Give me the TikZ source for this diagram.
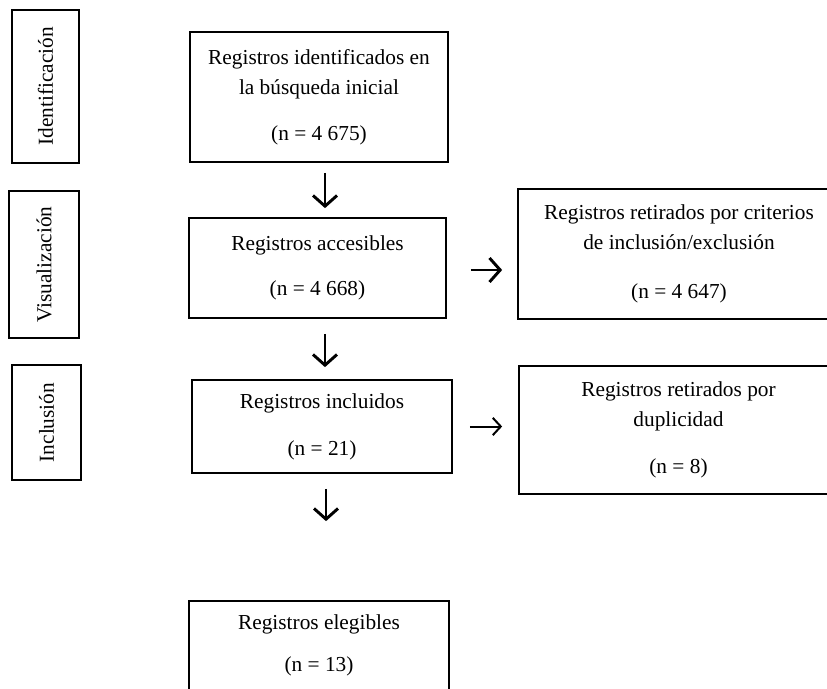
\documentclass[tikz,border=0pt]{standalone}
\usepackage{fontspec}
\usepackage{graphicx}
\setmainfont{Liberation Serif}
\usetikzlibrary{arrows.meta}
\begin{document}
\begin{tikzpicture}[x=0.75pt,y=-0.75pt,
  txt/.style={font=\fontsize{16pt}{22.5pt}\selectfont},
  box/.style={txt, draw, line width=1.3pt, rectangle, align=center, inner sep=0pt},
  side/.style={txt, draw, line width=1.3pt, rectangle, inner sep=0pt},
  arr/.style={line width=2.2pt, -{Straight Barb[length=8pt,width=18pt]}},
  arrs/.style={line width=1.5pt, -{Straight Barb[length=6pt,width=13pt]}}]
\useasboundingbox (0,0) rectangle (827,688);

% stage labels
\node[side, minimum width=50.25pt, minimum height=114.75pt] (sid) at (45.5,86.5) {\rotatebox{90}{Identificación}};
\node[side, minimum width=52.5pt, minimum height=110.25pt] (svis) at (44,264.5) {\rotatebox{90}{Visualización}};
\node[side, minimum width=51.75pt, minimum height=86.25pt] (sinc) at (46.5,422.5) {\rotatebox{90}{Inclusión}};

% main boxes
\node[box, minimum width=193.5pt, minimum height=97.5pt] (b1) at (319,97)
  {Registros identificados en\\la búsqueda inicial\\[12pt](n = 4 675)};
\node[box, minimum width=192.75pt, minimum height=75pt] (b2) at (317.5,268)
  {Registros accesibles\\[11.25pt](n = 4 668)};
\node[box, minimum width=241.5pt, minimum height=97.5pt] (b3) at (679,254)
  {Registros retirados por criterios\\de inclusión/exclusión\\[14.25pt](n = 4 647)};
\node[box, minimum width=195pt, minimum height=69.75pt] (b4) at (322,426.5)
  {Registros incluidos\\[12.75pt](n = 21)};
\node[box, minimum width=239.25pt, minimum height=96pt] (b5) at (678.5,430)
  {Registros retirados por\\duplicidad\\[12.75pt](n = 8)};
\node[box, minimum width=195pt, minimum height=66.75pt] (b6) at (319,645.5)
  {Registros elegibles\\[9pt](n = 13)};

% connectors
\draw[arr, shorten <=7.5pt, shorten >=6.75pt] ([xshift=4.5pt]b1.south) -- ([xshift=4.5pt]b1.south |- b2.north);
\draw[arr, shorten <=11.25pt, shorten >=9pt] ([xshift=5.6pt]b2.south) -- ([xshift=5.6pt]b2.south |- b4.north);
\draw[arr, shorten <=11.25pt, shorten >=59.25pt] ([xshift=3pt]b4.south) -- ([xshift=3pt]b4.south |- b6.north);
\draw[arr, shorten <=18pt, shorten >=11.25pt] ([yshift=-1.5pt]b2.east) -- ([yshift=-1.5pt]b2.east -| b3.west);
\draw[arrs, shorten <=12.75pt, shorten >=12pt] (b4.east) -- (b4.east -| b5.west);
\end{tikzpicture}
\end{document}
